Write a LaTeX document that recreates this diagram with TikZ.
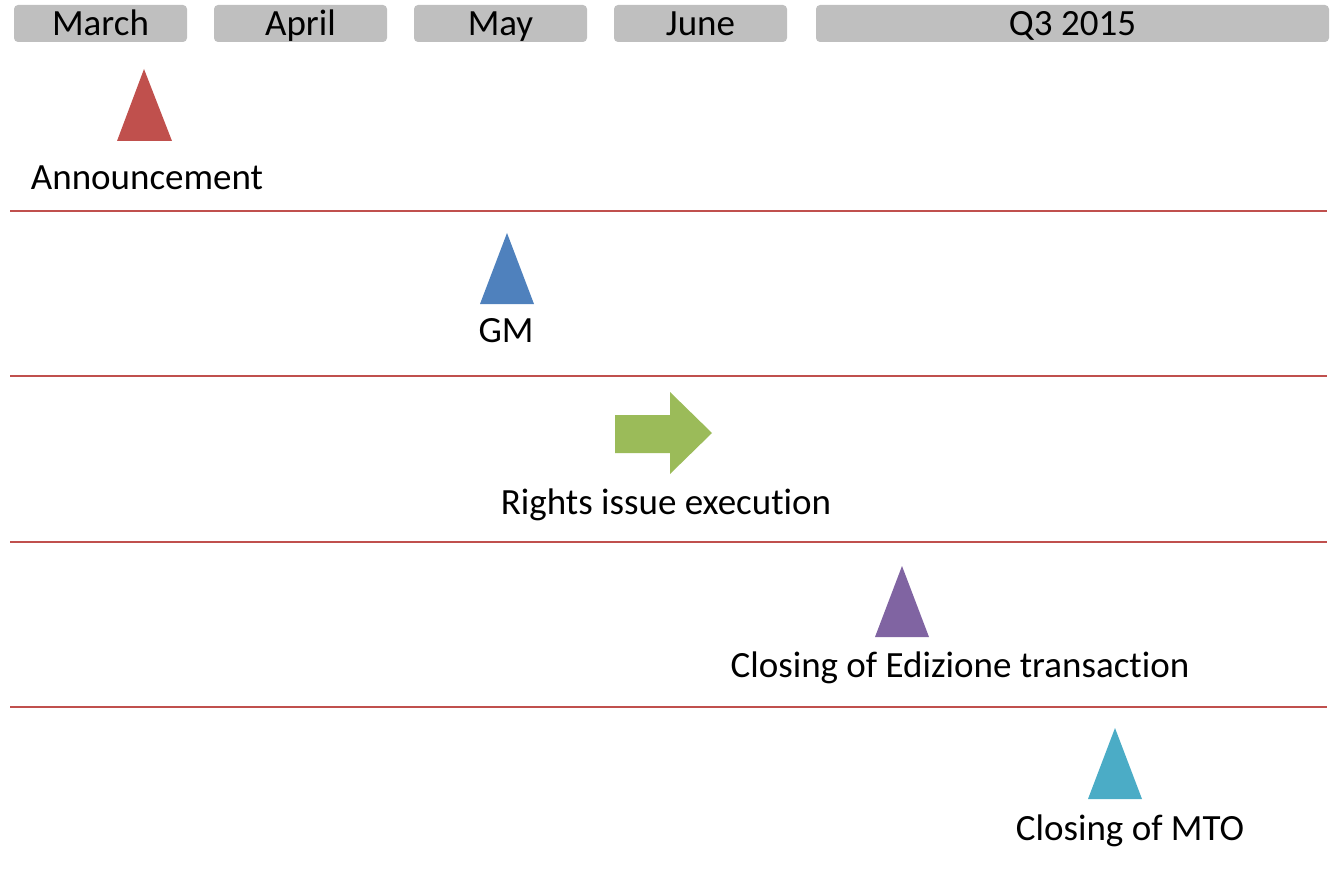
\documentclass[tikz,border=0pt]{standalone}
\usepackage{fontspec}
\setmainfont{Carlito}[Ligatures={NoCommon}]
\definecolor{hdr}{HTML}{BFBFBF}
\definecolor{sep}{HTML}{C0504D}
\definecolor{cred}{HTML}{C0504D}
\definecolor{cblue}{HTML}{4F81BD}
\definecolor{cgreen}{HTML}{9BBB59}
\definecolor{cpurple}{HTML}{8064A2}
\definecolor{ccyan}{HTML}{4BACC6}
\begin{document}
\begin{tikzpicture}[x=1pt,y=-1pt,
  hdrbox/.style={fill=hdr,rounded corners=4pt},
  hdrtxt/.style={anchor=base,inner sep=0pt,font=\fontsize{37}{44}\selectfont},
  lbl/.style={anchor=base,inner sep=0pt,font=\fontsize{37}{44}\selectfont},
  sepline/.style={draw=sep,line width=2.2pt}]
\useasboundingbox (0,0) rectangle (1334,869);
% header
\foreach \a/\b/\t/\n in {14/187/March/hm,214/387/April/ha,414/587/May/hy,614/787/June/hj,816/1329/Q3 2015/hq}{
  \fill[hdrbox] (\a,5) rectangle (\b,42);
  \node[hdrtxt] (\n) at ({(\a+\b)/2},36) {\t};
}
% separators
\foreach \y/\n in {211/s1,376/s2,542/s3,707/s4}{
  \coordinate (\n a) at (10,\y);
  \coordinate (\n b) at (1327,\y);
  \draw[sepline] (\n a) -- (\n b);
}
% red triangle
\fill[cred] (144,69) -- (172,141) -- (117,141) -- cycle;
\node[lbl] (ann) at (147,190) {Announcement};
% blue
\fill[cblue] (507,233) -- (534,304) -- (480,304) -- cycle;
\node[lbl] (gm) at (506,342) {GM};
% green arrow
\fill[cgreen] (615,415) -- (670,415) -- (670,392) -- (712,433) -- (670,474) -- (670,453) -- (615,453) -- cycle;
\node[lbl] (ri) at (666,514) {Rights issue execution};
% purple
\fill[cpurple] (902,566) -- (929,637) -- (875,637) -- cycle;
\node[lbl] (ed) at (960,677) {Closing of Edizione transaction};
% cyan
\fill[ccyan] (1115,728) -- (1142,799) -- (1088,799) -- cycle;
\node[lbl] (mto) at (1130,840) {Closing of MTO};
\end{tikzpicture}
\end{document}
